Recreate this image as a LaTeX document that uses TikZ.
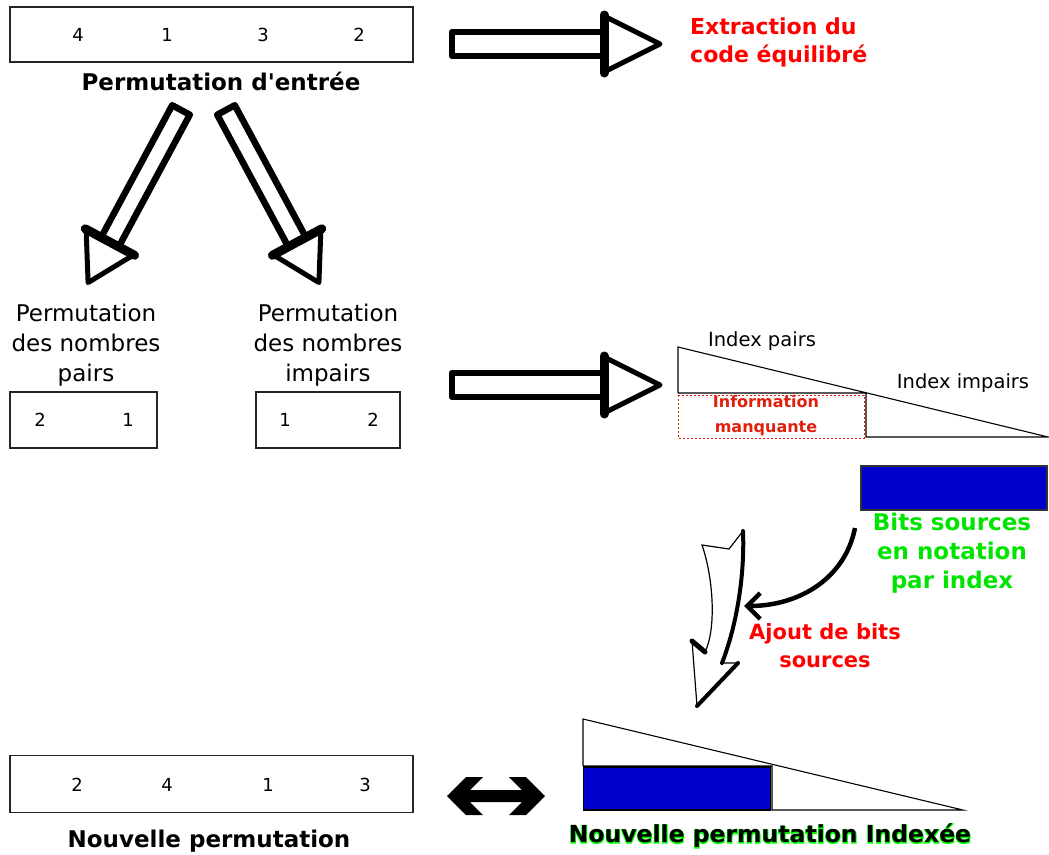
\documentclass[tikz,border=0pt]{standalone}
\usepackage{fontspec}
\setmainfont{DejaVu Sans}
\newfontfamily\glowfont{DejaVu Sans Bold}[FakeBold=6]
\newfontfamily\plainbold{DejaVu Sans Bold}
\usetikzlibrary{arrows.meta}
\definecolor{tred}{RGB}{255,0,0}
\definecolor{mred}{RGB}{222,32,12}
\definecolor{tgreen}{RGB}{0,228,0}
\definecolor{gglow}{RGB}{0,255,0}
\definecolor{tblue}{RGB}{0,0,204}
\newcommand\fatarrow[6]{%
  \begin{scope}[shift={#1}, rotate=#2]
    \draw[line width=6.5, line join=round, fill=white] (0,-#6) rectangle (#3,#6);
    \draw[line width=5, line join=round, fill=white] (#3,-#5) -- ({#3+#4},0) -- (#3,#5) -- cycle;
    \draw[line width=9, line cap=round] (#3,{-#5-1}) -- (#3,{#5+1});
  \end{scope}}
\begin{document}
\begin{tikzpicture}[x=1pt,y=-1pt,
  box/.style={draw=black!85, line width=1.1pt, inner sep=0pt},
  num/.style={font=\fontsize{18}{20}\selectfont},
  lbl/.style={font=\fontsize{23}{30}\selectfont, align=center, inner sep=0pt},
  title/.style={font=\fontsize{23}{28}\bfseries\selectfont, inner sep=0pt},
  small/.style={font=\fontsize{19.5}{24}\selectfont, inner sep=0pt},
  thin/.style={draw=black, line width=1.1pt, line join=miter}]
\useasboundingbox (0,0) rectangle (1049,854);

% ---------- input permutation
\node[box, minimum width=403pt, minimum height=55pt] (inbox) at (211.5,34.5) {};
\node[num] (i1) at (78,35) {4};
\node[num] (i2) at (167,35) {1};
\node[num] (i3) at (263,35) {3};
\node[num] (i4) at (359,35) {2};
\node[title] (intitle) at (221,81) {Permutation d\textquotesingle entrée};

% ---------- top right arrow + label
\coordinate (a1) at (452,44);
\fatarrow{(a1)}{0}{152}{56}{28}{12}
\node[font=\fontsize{22}{28}\bfseries\selectfont, text=tred, align=left, inner sep=0pt, anchor=west] (extr) at (690,42) {Extraction du\\code équilibré};

% ---------- diagonal arrows
\coordinate (d1) at (181,110);
\coordinate (d2) at (226,110);
\fatarrow{(d1)}{241.7}{150}{46}{27}{10}
\fatarrow{(d2)}{298.3}{150}{46}{27}{10}

% ---------- even / odd
\node[lbl] (evenlbl) at (86,345) {Permutation\\des nombres\\pairs};
\node[lbl] (oddlbl) at (328,345) {Permutation\\des nombres\\impairs};
\node[box, minimum width=147pt, minimum height=56pt] (evenbox) at (83.5,420) {};
\node[num] (e1) at (40,420) {2};
\node[num] (e2) at (128,420) {1};
\node[box, minimum width=144pt, minimum height=56pt] (oddbox) at (328,420) {};
\node[num] (o1) at (285,420) {1};
\node[num] (o2) at (373,420) {2};

% ---------- middle arrow
\coordinate (a2) at (452,385);
\fatarrow{(a2)}{0}{152}{56}{28}{12}

% ---------- index triangle
\coordinate (t1) at (678,347);
\coordinate (t2) at (678,393);
\coordinate (t3) at (866,393);
\coordinate (t4) at (866,437);
\coordinate (t5) at (1048,437);
\draw[thin] (t2) -- (t1) -- (t5) -- (t4) -- (t3) -- (t2);
\draw[mred, line width=1pt, dash pattern=on 2pt off 2pt] (678,395) rectangle (864,438);
\node[font=\fontsize{16}{25}\bfseries\selectfont, text=mred, align=center, inner sep=0pt] (miss) at (766,416) {Information\\manquante};
\node[small] (ipairs) at (762,341) {Index pairs};
\node[small] (iimpairs) at (963,383) {Index impairs};

% ---------- source bits
\node[draw=black!80, line width=1.1pt, fill=tblue, minimum width=186pt, minimum height=44pt, inner sep=0pt] (bluebox) at (954,488) {};
\node[font=\fontsize{23}{29}\bfseries\selectfont, text=tgreen, align=center, inner sep=0pt] (bits) at (952,553) {Bits sources\\en notation\\par index};

% curved arrow
\coordinate (cs) at (855,528);
\coordinate (ce) at (744,606);
\draw[line width=4.5, -{Straight Barb[length=13pt,width=26pt]}] (cs) .. controls (845,578) and (800,606) .. (ce);

% big hand drawn arrow
\coordinate (h1) at (743,531);
\coordinate (htip) at (697,706);
\draw[line width=1.2, fill=white, line join=miter] (h1) -- (729,549) -- (702,545) .. controls (714,580) and (716,630) .. (705,652) -- (692,641) -- (htip) -- (738,663) -- (722,663) .. controls (735,630) and (745,580) .. (h1) -- cycle;
\draw[line width=4, line cap=round] (722,663) .. controls (735,630) and (745,580) .. (h1);
\draw[line width=4, line cap=round] (htip) -- (738,663);
\draw[line width=5, line cap=round] (705,652) -- (692,641);
\node[font=\fontsize{21}{28}\bfseries\selectfont, text=tred, align=center, inner sep=0pt] (ajout) at (825,646) {Ajout de bits\\sources};

% ---------- new indexed permutation
\coordinate (b1) at (583,719);
\coordinate (b2) at (583,766);
\coordinate (b3) at (772,766);
\coordinate (b4) at (772,810);
\coordinate (b5) at (963,810);
\draw[thin] (b2) -- (b1) -- (b5) -- (b4) -- (b3) -- (b2);
\node[draw=black, line width=1.1pt, fill=tblue, minimum width=187pt, minimum height=43pt, inner sep=0pt] (newblue) at (677,788.5) {};
\node[font=\glowfont\fontsize{23.5}{28}\selectfont, text=gglow, inner sep=0pt] (newidxglow) at (770,836) {Nouvelle permutation Indexée};
\node[font=\plainbold\fontsize{23.5}{28}\selectfont, inner sep=0pt] (newidx) at (770,836) {Nouvelle permutation Indexée};

% ---------- double arrow
\coordinate (dl) at (447,796);
\coordinate (dr) at (545,796);
\fill[black] (dl) -- (466,777) -- (483,777) -- (470,790) -- (522,790) -- (509,777) -- (526,777) -- (dr) -- (526,815) -- (509,815) -- (522,802) -- (470,802) -- (483,815) -- (466,815) -- cycle;

% ---------- new permutation
\node[box, minimum width=403pt, minimum height=57pt] (outbox) at (211.5,784) {};
\node[num] (n1) at (77,785) {2};
\node[num] (n2) at (167,785) {4};
\node[num] (n3) at (268,785) {1};
\node[num] (n4) at (365,785) {3};
\node[title] (outtitle) at (209,841) {Nouvelle permutation};
\end{tikzpicture}
\end{document}
